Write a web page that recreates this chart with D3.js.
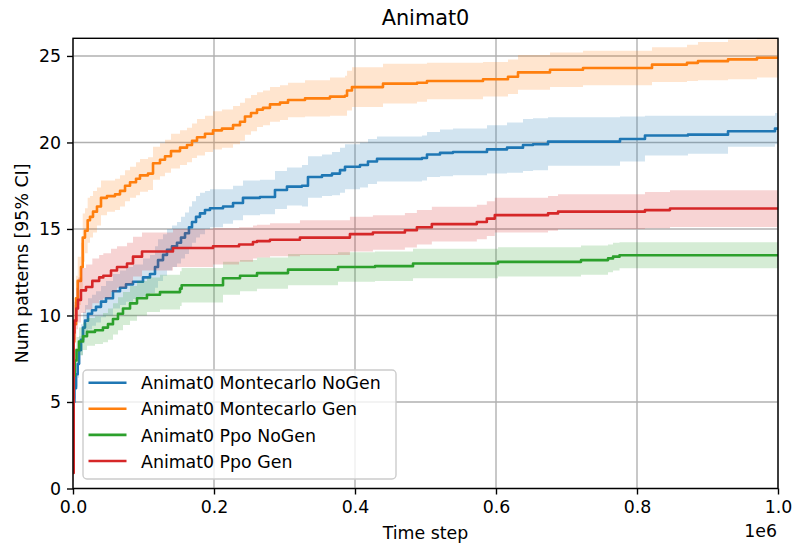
<!DOCTYPE html>
<html>
<head>
<meta charset="utf-8">
<script src="https://cdn.jsdelivr.net/npm/d3@7"></script>
<style>
  body { margin: 0; background: #fff; }
  svg { display: block; font-family: "DejaVu Sans", sans-serif; }
</style>
</head>
<body>
<svg id="chart" width="795" height="547"></svg>
<script>
// Series: time step (env steps), mean number of patterns, half-width of the 95% CI
const seriesNames = [
  "Animat0 Montecarlo NoGen",
  "Animat0 Montecarlo Gen",
  "Animat0 Ppo NoGen",
  "Animat0 Ppo Gen"
];
const seriesColors = ["#1f77b4", "#ff7f0e", "#2ca02c", "#d62728"];

const tMcNoGen = [0, 2000, 4300, 6700, 8500, 11300, 14200, 17000, 21300, 27000, 32600, 39700, 46800, 56700, 66700, 75200, 85100, 99300, 109200, 116300, 120600, 127700, 133300, 140400, 147500, 153200, 158900, 164500, 168800, 174500, 180100, 187200, 194300, 212800, 227000, 241100, 265200, 286500, 303500, 324800, 333300, 353200, 367400, 378700, 385800, 407100, 418400, 431200, 495000, 502100, 520600, 539000, 587200, 615600, 638300, 652500, 673800, 775900, 811300, 872300, 929100, 995700, 1000000];
const yMcNoGen = [5.0, 5.8, 6.6, 7.2, 8.0, 8.6, 9.3, 9.7, 10.1, 10.3, 10.5, 10.8, 11.0, 11.4, 11.6, 11.8, 11.95, 12.2, 12.4, 12.8, 13.2, 13.5, 13.8, 14.0, 14.2, 14.5, 14.75, 15.1, 15.4, 15.7, 15.9, 16.1, 16.2, 16.3, 16.5, 16.8, 16.85, 17.25, 17.45, 17.5, 18.0, 18.1, 18.2, 18.4, 18.6, 18.7, 18.9, 19.05, 19.1, 19.3, 19.4, 19.45, 19.6, 19.7, 19.85, 19.9, 20.05, 20.2, 20.4, 20.45, 20.65, 20.8, 20.8];
const ciMcNoGen = [0.5, 0.6, 0.7, 0.8, 0.8, 0.9, 0.9, 0.9, 0.9, 0.9, 0.9, 0.9, 1.0, 1.0, 1.0, 1.0, 1.0, 1.1, 1.1, 1.2, 1.2, 1.2, 1.2, 1.2, 1.2, 1.2, 1.2, 1.2, 1.2, 1.2, 1.2, 1.1, 1.1, 1.0, 1.0, 1.0, 1.0, 1.1, 1.1, 1.2, 1.2, 1.2, 1.25, 1.3, 1.3, 1.3, 1.3, 1.3, 1.3, 1.3, 1.35, 1.35, 1.4, 1.45, 1.5, 1.5, 1.4, 1.3, 1.15, 1.1, 0.9, 0.9, 0.9];

const tMcGen = [0, 1800, 4300, 6700, 11300, 13800, 17000, 20800, 24100, 28400, 34000, 39700, 48200, 59600, 66700, 73800, 80900, 89400, 95000, 106400, 113500, 123400, 130500, 139000, 151800, 161700, 168800, 175900, 187200, 198600, 211300, 227000, 236900, 243900, 252500, 261000, 269500, 279400, 293600, 305000, 329100, 364500, 385800, 388700, 395700, 439700, 488000, 502100, 581600, 617000, 631200, 676600, 723400, 821300, 870900, 886500, 929100, 970200, 1000000];
const yMcGen = [8.5, 9.5, 11.0, 12.0, 12.8, 14.5, 14.9, 15.5, 15.7, 16.0, 16.3, 16.8, 16.9, 17.0, 17.2, 17.5, 17.7, 17.9, 18.1, 18.2, 18.8, 19.0, 19.2, 19.5, 19.7, 19.85, 20.1, 20.3, 20.5, 20.7, 20.8, 21.0, 21.2, 21.5, 21.7, 21.9, 22.0, 22.2, 22.3, 22.45, 22.55, 22.65, 22.7, 23.0, 23.2, 23.4, 23.45, 23.55, 23.65, 23.8, 24.05, 24.2, 24.3, 24.5, 24.6, 24.7, 24.8, 24.9, 24.9];
const ciMcGen = [0.9, 1.1, 1.3, 1.4, 1.4, 1.4, 1.3, 1.3, 1.2, 1.2, 1.1, 1.0, 0.9, 0.9, 0.9, 0.9, 0.9, 0.95, 0.95, 0.95, 0.95, 0.95, 0.95, 1.0, 1.0, 1.0, 1.0, 1.05, 1.05, 1.1, 1.1, 1.1, 1.1, 1.05, 1.05, 1.0, 1.0, 1.0, 1.0, 1.0, 1.05, 1.1, 1.15, 1.15, 1.15, 1.15, 1.1, 1.05, 1.0, 1.0, 1.0, 1.0, 1.0, 1.0, 1.05, 1.1, 1.15, 1.15, 1.15];

const tPpoNoGen = [0, 1200, 2400, 5000, 8500, 14200, 19900, 31200, 42500, 49600, 56700, 63800, 70900, 80900, 90800, 104900, 123400, 151800, 154100, 212800, 236900, 261000, 305000, 375900, 428400, 482300, 602800, 720600, 758900, 766000, 775200, 1000000];
const yPpoNoGen = [5.8, 6.5, 7.4, 8.0, 8.5, 8.8, 9.05, 9.15, 9.3, 9.5, 9.8, 10.1, 10.4, 10.7, 11.0, 11.2, 11.35, 11.55, 11.75, 12.15, 12.3, 12.45, 12.65, 12.8, 12.85, 13.0, 13.1, 13.2, 13.3, 13.4, 13.48, 13.48];
const ciPpoNoGen = [0.6, 0.7, 0.7, 0.75, 0.8, 0.8, 0.8, 0.8, 0.85, 0.9, 0.9, 0.95, 0.95, 1.0, 1.0, 1.0, 1.0, 1.0, 1.0, 0.95, 0.9, 0.9, 0.9, 0.85, 0.85, 0.85, 0.85, 0.85, 0.8, 0.8, 0.75, 0.75];

const tPpoGen = [0, 1000, 2000, 4700, 7100, 11300, 18400, 27400, 37100, 43000, 53900, 62400, 76600, 85100, 97900, 141800, 198600, 235500, 255300, 261000, 279400, 321900, 392800, 425400, 470800, 487800, 509000, 572800, 587000, 598300, 673800, 688000, 811300, 846800, 1000000];
const yPpoGen = [0.9, 9.0, 9.7, 10.4, 10.9, 11.45, 11.65, 12.0, 12.2, 12.3, 12.6, 12.8, 13.0, 13.4, 13.7, 13.9, 14.0, 14.1, 14.25, 14.3, 14.38, 14.5, 14.7, 14.8, 14.93, 15.1, 15.28, 15.4, 15.6, 15.8, 15.9, 16.0, 16.09, 16.18, 16.18];
const ciPpoGen = [0.5, 1.0, 1.1, 1.2, 1.3, 1.3, 1.3, 1.3, 1.3, 1.3, 1.25, 1.2, 1.2, 1.15, 1.1, 1.1, 1.05, 1.0, 0.95, 0.95, 0.95, 1.0, 1.0, 1.0, 1.0, 1.0, 1.0, 1.0, 1.0, 1.0, 1.0, 1.0, 1.05, 1.06, 1.06];

const xTicks = [0, 200000, 400000, 600000, 800000, 1000000];
const yTicks = [0, 5, 10, 15, 20, 25];

const seriesT = [tMcNoGen, tMcGen, tPpoNoGen, tPpoGen];
const seriesY = [yMcNoGen, yMcGen, yPpoNoGen, yPpoGen];
const seriesCI = [ciMcNoGen, ciMcGen, ciPpoNoGen, ciPpoGen];

const svg = d3.select("#chart");
const plotLeft = 73, plotRight = 778, plotTop = 38.3, plotBottom = 488.5;
const fs = 17.36;

const x = d3.scaleLinear().domain([0, 1000000]).range([plotLeft, plotRight]);
const y = d3.scaleLinear().domain([0, 26.02]).range([plotBottom, plotTop]);

// Grid lines
const grid = svg.append("g");
grid.selectAll(".gx").data(xTicks).join("line")
  .attr("x1", d => x(d)).attr("x2", d => x(d))
  .attr("y1", plotTop).attr("y2", plotBottom)
  .attr("stroke", "#b0b0b0").attr("stroke-width", 1.39);
grid.selectAll(".gy").data(yTicks).join("line")
  .attr("x1", plotLeft).attr("x2", plotRight)
  .attr("y1", d => y(d)).attr("y2", d => y(d))
  .attr("stroke", "#b0b0b0").attr("stroke-width", 1.39);

svg.append("defs").append("clipPath").attr("id", "plotclip")
  .append("rect").attr("x", plotLeft).attr("y", plotTop)
  .attr("width", plotRight - plotLeft).attr("height", plotBottom - plotTop);

const plot = svg.append("g").attr("clip-path", "url(#plotclip)");

seriesNames.forEach((name, i) => {
  const pts = seriesT[i].map((t, k) => ({ t, v: seriesY[i][k], c: seriesCI[i][k] }));
  const area = d3.area()
    .x(d => x(d.t))
    .y0(d => y(d.v - d.c))
    .y1(d => y(d.v + d.c))
    .curve(d3.curveStepAfter);
  const line = d3.line()
    .x(d => x(d.t))
    .y(d => y(d.v))
    .curve(d3.curveStepAfter);
  plot.append("path").datum(pts)
    .attr("d", area)
    .attr("fill", seriesColors[i]).attr("fill-opacity", 0.2).attr("stroke", "none");
  plot.append("path").datum(pts)
    .attr("d", line)
    .attr("fill", "none").attr("stroke", seriesColors[i])
    .attr("stroke-width", 2.6).attr("stroke-linejoin", "round");
});

// Axes
const xAxis = d3.axisBottom(x).tickValues(xTicks)
  .tickFormat(d => (d / 1e6).toFixed(1)).tickSize(6).tickPadding(6);
const yAxis = d3.axisLeft(y).tickValues(yTicks)
  .tickFormat(d3.format("d")).tickSize(6).tickPadding(6);

const gx = svg.append("g").attr("transform", `translate(0,${plotBottom})`).call(xAxis);
const gy = svg.append("g").attr("transform", `translate(${plotLeft},0)`).call(yAxis);
[gx, gy].forEach(g => {
  g.select(".domain").remove();
  g.selectAll(".tick line").attr("stroke", "#000").attr("stroke-width", 1.39);
  g.selectAll(".tick text").attr("fill", "#000")
    .style("font-size", fs + "px").style("font-family", "DejaVu Sans");
});

// Spines
svg.append("rect").attr("x", plotLeft).attr("y", plotTop)
  .attr("width", plotRight - plotLeft).attr("height", plotBottom - plotTop)
  .attr("fill", "none").attr("stroke", "#000").attr("stroke-width", 1.39);

// Title and labels
svg.append("text").attr("x", (plotLeft + plotRight) / 2).attr("y", 25)
  .attr("text-anchor", "middle").style("font-size", "20.83px").text("Animat0");
svg.append("text").attr("x", (plotLeft + plotRight) / 2).attr("y", 539)
  .attr("text-anchor", "middle").style("font-size", fs + "px").text("Time step");
svg.append("text").attr("x", plotRight - 1).attr("y", 536.5)
  .attr("text-anchor", "end").style("font-size", fs + "px").text("1e6");
svg.append("text")
  .attr("transform", `translate(27.5,${(plotTop + plotBottom) / 2}) rotate(-90)`)
  .attr("text-anchor", "middle").style("font-size", fs + "px").text("Num patterns [95% CI]");

// Legend
const lg = svg.append("g");
lg.append("rect").attr("x", 83).attr("y", 370).attr("width", 313).attr("height", 109)
  .attr("rx", 4).attr("fill", "#fff").attr("fill-opacity", 0.8)
  .attr("stroke", "#cccccc").attr("stroke-width", 1.39);
seriesNames.forEach((name, i) => {
  const yy = 382.7 + i * 26.1;
  lg.append("line").attr("x1", 88.5).attr("x2", 126.5)
    .attr("y1", yy).attr("y2", yy)
    .attr("stroke", seriesColors[i]).attr("stroke-width", 2.6);
  lg.append("text").attr("x", 141).attr("y", yy + 6.6)
    .style("font-size", fs + "px").text(name);
});
</script>
</body>
</html>
